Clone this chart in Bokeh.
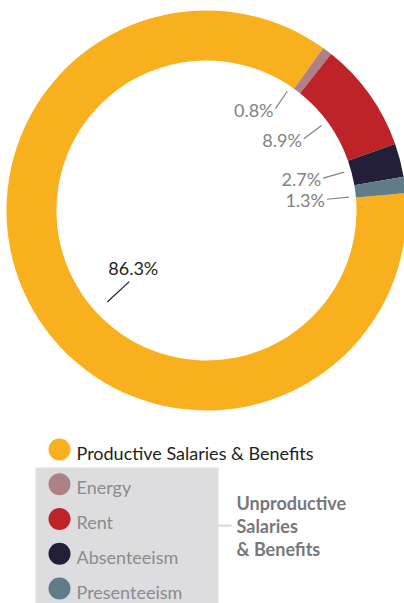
import math
from bokeh.plotting import figure
from bokeh.models import Range1d
from bokeh.core.properties import value
from bokeh.embed import file_html
from bokeh.resources import INLINE

# ---- data ----
categories = ["Productive Salaries & Benefits", "Energy", "Rent", "Absenteeism", "Presenteeism"]
shares = [86.3, 0.8, 8.9, 2.7, 1.3]
share_labels = ["86.3%", "0.8%", "8.9%", "2.7%", "1.3%"]
group_label = ["Unproductive", "Salaries", "& Benefits"]

# ---- styles ----
colors = ["#F9B01E", "#AD8286", "#BE2327", "#231F38", "#5F7C88"]
label_colors = ["#231F20", "#808285", "#808285", "#808285", "#808285"]
legend_text_colors = ["#231F20", "#8A8A8E", "#8A8A8E", "#8A8A8E", "#8A8A8E"]
FONT = "Lato"

# layout (picture pixel space; y data = -picture y)
CX, CY = 206, 210
R_IN, R_OUT = 150, 200
START_DEG = 5.0               # where the first slice starts, going clockwise
label_nudge = [13, 3, 1, 1, -2]   # degrees added to slice mid angle for leader lines
lead_r = [(105, 135), (123, 144), (121, 143), (121, 143), (121, 143)]

W, H = 404, 603
p = figure(width=W, height=H, x_range=Range1d(0, W), y_range=Range1d(-H, 0),
           output_backend="svg", toolbar_location=None, min_border=0)
p.axis.visible = False
p.grid.visible = False
p.outline_line_color = None
p.background_fill_color = "white"
p.border_fill_color = "white"

total = sum(shares)
a = START_DEG
starts, ends, mids = [], [], []
for s in shares:
    span = 360.0 * s / total
    a_end = a - span
    starts.append(a_end)
    ends.append(a)
    mids.append((a + a_end) / 2)
    a = a_end

p.annular_wedge(x=[CX] * len(shares), y=[-CY] * len(shares), inner_radius=R_IN, outer_radius=R_OUT,
                start_angle=[math.radians(v) for v in starts], end_angle=[math.radians(v) for v in ends],
                fill_color=colors, line_color=None, direction="anticlock")

# leader lines and labels
for i, lab in enumerate(share_labels):
    ang = math.radians(mids[i] + label_nudge[i])
    r1, r2 = lead_r[i]
    x1, y1 = CX + r1 * math.cos(ang), CY - r1 * math.sin(ang)
    x2, y2 = CX + r2 * math.cos(ang), CY - r2 * math.sin(ang)
    lc = "#231F20" if i == 0 else "#808285"
    p.line([x1, x2], [-y1, -y2], line_color=lc, line_width=1.2)
    if i == 0:
        p.text(x=[x1 + 4], y=[-(y1 - 3)], text=[lab], text_align="center", text_baseline="bottom",
               text_font=value(FONT), text_font_size="18px", text_color=label_colors[i])
    else:
        p.text(x=[x1 - 2], y=[-(y1 + 12)], text=[lab], text_align="right", text_baseline="bottom",
               text_font=value(FONT), text_font_size="18px", text_color=label_colors[i])

# legend
box_left, box_right, box_top, box_bottom = 35, 218, 467, 603
p.quad(left=[box_left], right=[box_right], top=[-box_top], bottom=[-box_bottom],
       fill_color="#DDDDE0", line_color=None)
row0, row_gap = 449, 34.75
for i, cat in enumerate(categories):
    yy = row0 + i * row_gap
    p.scatter(x=[59], y=[-yy], size=22, marker="circle", fill_color=colors[i], line_color=None)
    p.text(x=[76], y=[-(yy + 14)], text=[cat], text_align="left", text_baseline="bottom",
           text_font=value(FONT), text_font_size="18px", text_color=legend_text_colors[i])

p.line([218, 231], [-525, -525], line_color="#D8D8DA", line_width=2)
for j, t in enumerate(group_label):
    p.text(x=[236], y=[-(513 + j * 23.4)], text=[t], text_align="left", text_baseline="bottom",
           text_font=value(FONT), text_font_size="18px", text_font_style="bold", text_color="#77777B")

open("out.html", "w").write(file_html(p, INLINE))
